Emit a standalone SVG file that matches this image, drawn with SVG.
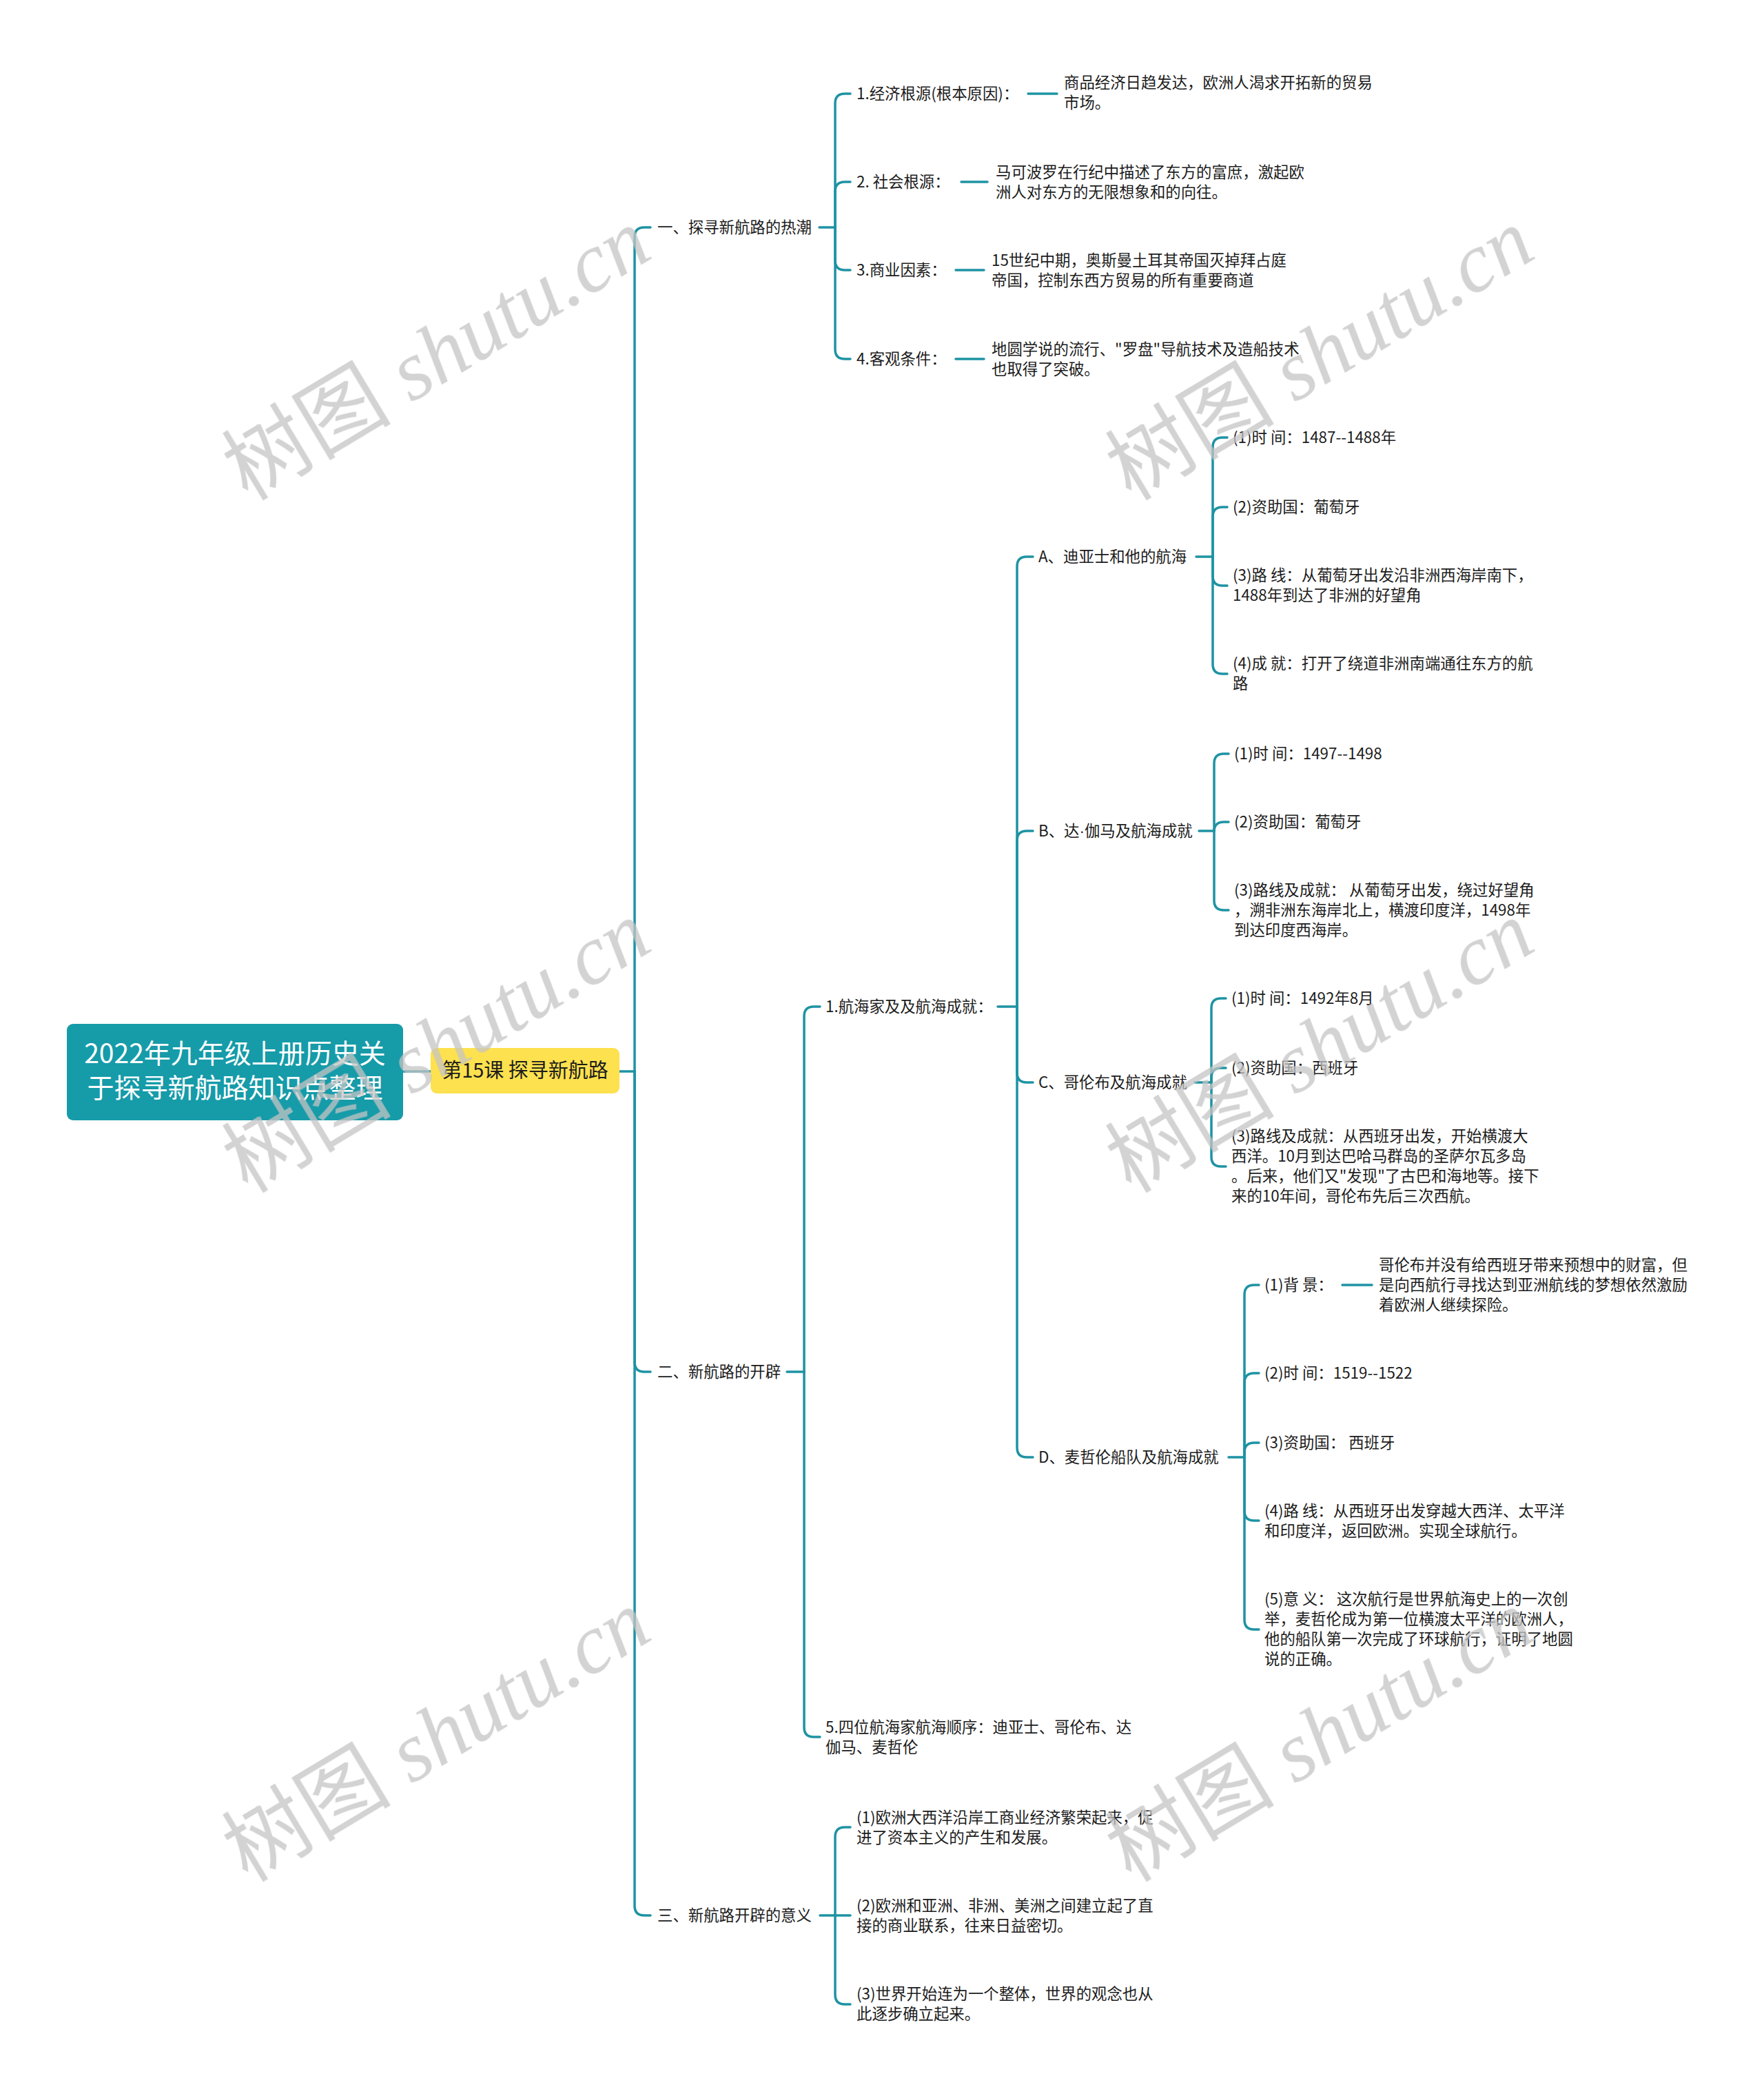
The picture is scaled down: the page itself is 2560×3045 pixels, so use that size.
<svg xmlns="http://www.w3.org/2000/svg" width="2560" height="3045" viewBox="0 0 2560 3045">
<style>
.t{font-family:"Noto Sans CJK SC","Liberation Sans",sans-serif;font-size:22.4px;fill:#1c1c1c}
.c path{fill:none;stroke:#1e93a3;stroke-width:3.5;stroke-linecap:round}
.wm{font-family:"Liberation Serif","Noto Sans CJK SC",serif;font-size:123px;fill:#c4c4c4;opacity:0.75}
.wm .i{font-style:italic}
.dot{font-family:"Liberation Sans",sans-serif}
</style>
<rect width="2560" height="3045" fill="#ffffff"/>
<g id="connectors" class="c">
<path d="M585,1555 H625"/>
<path d="M899,1555 H921"/>
<path d="M921,1555 V344 Q921,330 935,330 H944"/>
<path d="M921,1555 V1977 Q921,1991 935,1991 H944"/>
<path d="M921,1555 V2766 Q921,2780 935,2780 H944"/>
<path d="M1189,330 H1212"/>
<path d="M1212,330 V150 Q1212,136 1226,136 H1234"/>
<path d="M1212,330 V278 Q1212,264 1226,264 H1234"/>
<path d="M1212,330 V378 Q1212,392 1226,392 H1234"/>
<path d="M1212,330 V507 Q1212,521 1226,521 H1234"/>
<path d="M1492,136 H1534"/>
<path d="M1395,264 H1433"/>
<path d="M1387,392 H1428"/>
<path d="M1387,521 H1428"/>
<path d="M1142,1991 H1167"/>
<path d="M1167,1991 V1475 Q1167,1461 1181,1461 H1190"/>
<path d="M1167,1991 V2507 Q1167,2521 1181,2521 H1190"/>
<path d="M1448,1461 H1476"/>
<path d="M1476,1461 V822 Q1476,808 1490,808 H1499"/>
<path d="M1476,1461 V1220 Q1476,1206 1490,1206 H1499"/>
<path d="M1476,1461 V1557 Q1476,1571 1490,1571 H1499"/>
<path d="M1476,1461 V2101 Q1476,2115 1490,2115 H1499"/>
<path d="M1736,808 H1760"/>
<path d="M1760,808 V649 Q1760,635 1774,635 H1781"/>
<path d="M1760,808 V750 Q1760,736 1774,736 H1781"/>
<path d="M1760,808 V836 Q1760,850 1774,850 H1781"/>
<path d="M1760,808 V964 Q1760,978 1774,978 H1781"/>
<path d="M1740,1206 H1762"/>
<path d="M1762,1206 V1108 Q1762,1094 1776,1094 H1783"/>
<path d="M1762,1206 V1207 Q1762,1193 1776,1193 H1783"/>
<path d="M1762,1206 V1307 Q1762,1321 1776,1321 H1783"/>
<path d="M1734,1571 H1758"/>
<path d="M1758,1571 V1463 Q1758,1449 1772,1449 H1779"/>
<path d="M1758,1571 V1564 Q1758,1550 1772,1550 H1779"/>
<path d="M1758,1571 V1679 Q1758,1693 1772,1693 H1779"/>
<path d="M1783,2115 H1806"/>
<path d="M1806,2115 V1879 Q1806,1865 1820,1865 H1827"/>
<path d="M1806,2115 V2007 Q1806,1993 1820,1993 H1827"/>
<path d="M1806,2115 V2108 Q1806,2094 1820,2094 H1827"/>
<path d="M1806,2115 V2193 Q1806,2207 1820,2207 H1827"/>
<path d="M1806,2115 V2351 Q1806,2365 1820,2365 H1827"/>
<path d="M1948,1865 H1991"/>
<path d="M1190,2780 H1234"/>
<path d="M1212,2780 V2666 Q1212,2652 1226,2652 H1234"/>
<path d="M1212,2780 V2895 Q1212,2909 1226,2909 H1234"/>
</g>
<g id="root">
<rect x="97" y="1486" width="488" height="140" rx="9" fill="#169ba9"/>
<text x="341" y="1543" text-anchor="middle" font-family="Noto Sans CJK SC, sans-serif" font-size="39" fill="#ffffff">2022年九年级上册历史关</text>
<text x="341" y="1593" text-anchor="middle" font-family="Noto Sans CJK SC, sans-serif" font-size="39" fill="#ffffff">于探寻新航路知识点整理</text>
</g>
<g id="lesson">
<rect x="625" y="1521" width="274" height="66" rx="9" fill="#fde14e"/>
<text x="762" y="1564" text-anchor="middle" font-family="Noto Sans CJK SC, sans-serif" font-size="29" fill="#1c1c1c">第15课 探寻新航路</text>
</g>
<g id="s1"><text class="t" x="954" y="338">一、探寻新航路的热潮</text></g>
<g id="s1-1"><text class="t" x="1243" y="144">1.经济根源(根本原因)：</text></g>
<g id="s1-1d"><text class="t" x="1544" y="128">商品经济日趋发达，欧洲人渴求开拓新的贸易</text><text class="t" x="1544" y="157">市场。</text></g>
<g id="s1-2"><text class="t" x="1243" y="272">2. 社会根源：</text></g>
<g id="s1-2d"><text class="t" x="1445" y="258">马可波罗在行纪中描述了东方的富庶，激起欧</text><text class="t" x="1445" y="287">洲人对东方的无限想象和的向往。</text></g>
<g id="s1-3"><text class="t" x="1243" y="400">3.商业因素：</text></g>
<g id="s1-3d"><text class="t" x="1439" y="386">15世纪中期，奥斯曼土耳其帝国灭掉拜占庭</text><text class="t" x="1439" y="415">帝国，控制东西方贸易的所有重要商道</text></g>
<g id="s1-4"><text class="t" x="1243" y="529">4.客观条件：</text></g>
<g id="s1-4d"><text class="t" x="1439" y="515">地圆学说的流行、"罗盘"导航技术及造船技术</text><text class="t" x="1439" y="544">也取得了突破。</text></g>
<g id="s2"><text class="t" x="954" y="1999">二、新航路的开辟</text></g>
<g id="s2-1"><text class="t" x="1198" y="1469">1.航海家及及航海成就：</text></g>
<g id="A"><text class="t" x="1507" y="816">A、迪亚士和他的航海</text></g>
<g id="A1"><text class="t" x="1789" y="643">(1)时 间：1487--1488年</text></g>
<g id="A2"><text class="t" x="1789" y="744">(2)资助国：葡萄牙</text></g>
<g id="A3"><text class="t" x="1789" y="843">(3)路 线：从葡萄牙出发沿非洲西海岸南下，</text><text class="t" x="1789" y="872">1488年到达了非洲的好望角</text></g>
<g id="A4"><text class="t" x="1789" y="971">(4)成 就：打开了绕道非洲南端通往东方的航</text><text class="t" x="1789" y="1000">路</text></g>
<g id="B"><text class="t" x="1507" y="1214">B、达<tspan class="dot">·</tspan>伽马及航海成就</text></g>
<g id="B1"><text class="t" x="1791" y="1102">(1)时 间：1497--1498</text></g>
<g id="B2"><text class="t" x="1791" y="1201">(2)资助国：葡萄牙</text></g>
<g id="B3"><text class="t" x="1791" y="1300">(3)路线及成就： 从葡萄牙出发，绕过好望角</text><text class="t" x="1791" y="1329">，溯非洲东海岸北上，横渡印度洋，1498年</text><text class="t" x="1791" y="1358">到达印度西海岸。</text></g>
<g id="C"><text class="t" x="1507" y="1579">C、哥伦布及航海成就</text></g>
<g id="C1"><text class="t" x="1787" y="1457">(1)时 间：1492年8月</text></g>
<g id="C2"><text class="t" x="1787" y="1558">(2)资助国：西班牙</text></g>
<g id="C3"><text class="t" x="1787" y="1657">(3)路线及成就：从西班牙出发，开始横渡大</text><text class="t" x="1787" y="1686">西洋。10月到达巴哈马群岛的圣萨尔瓦多岛</text><text class="t" x="1787" y="1715">。后来，他们又"发现"了古巴和海地等。接下</text><text class="t" x="1787" y="1744">来的10年间，哥伦布先后三次西航。</text></g>
<g id="D"><text class="t" x="1507" y="2123">D、麦哲伦船队及航海成就</text></g>
<g id="D1"><text class="t" x="1835" y="1873">(1)背 景：</text></g>
<g id="D1d"><text class="t" x="2001" y="1844">哥伦布并没有给西班牙带来预想中的财富，但</text><text class="t" x="2001" y="1873">是向西航行寻找达到亚洲航线的梦想依然激励</text><text class="t" x="2001" y="1902">着欧洲人继续探险。</text></g>
<g id="D2"><text class="t" x="1835" y="2001">(2)时 间：1519--1522</text></g>
<g id="D3"><text class="t" x="1835" y="2102">(3)资助国： 西班牙</text></g>
<g id="D4"><text class="t" x="1835" y="2201">(4)路 线：从西班牙出发穿越大西洋、太平洋</text><text class="t" x="1835" y="2230">和印度洋，返回欧洲。实现全球航行。</text></g>
<g id="D5"><text class="t" x="1835" y="2329">(5)意 义： 这次航行是世界航海史上的一次创</text><text class="t" x="1835" y="2358">举，麦哲伦成为第一位横渡太平洋的欧洲人，</text><text class="t" x="1835" y="2387">他的船队第一次完成了环球航行，证明了地圆</text><text class="t" x="1835" y="2416">说的正确。</text></g>
<g id="s2-5"><text class="t" x="1198" y="2515">5.四位航海家航海顺序：迪亚士、哥伦布、达</text><text class="t" x="1198" y="2544">伽马、麦哲伦</text></g>
<g id="s3"><text class="t" x="954" y="2788">三、新航路开辟的意义</text></g>
<g id="s3-1"><text class="t" x="1243" y="2646">(1)欧洲大西洋沿岸工商业经济繁荣起来，促</text><text class="t" x="1243" y="2675">进了资本主义的产生和发展。</text></g>
<g id="s3-2"><text class="t" x="1243" y="2774">(2)欧洲和亚洲、非洲、美洲之间建立起了直</text><text class="t" x="1243" y="2803">接的商业联系，往来日益密切。</text></g>
<g id="s3-3"><text class="t" x="1243" y="2902">(3)世界开始连为一个整体，世界的观念也从</text><text class="t" x="1243" y="2931">此逐步确立起来。</text></g>
<g id="watermarks" class="wm" text-anchor="middle">
<text transform="translate(655,550) rotate(-31)">树图 <tspan class="i">shutu.cn</tspan></text>
<text transform="translate(1937,550) rotate(-31)">树图 <tspan class="i">shutu.cn</tspan></text>
<text transform="translate(655,1555) rotate(-31)">树图 <tspan class="i">shutu.cn</tspan></text>
<text transform="translate(1937,1555) rotate(-31)">树图 <tspan class="i">shutu.cn</tspan></text>
<text transform="translate(655,2555) rotate(-31)">树图 <tspan class="i">shutu.cn</tspan></text>
<text transform="translate(1937,2555) rotate(-31)">树图 <tspan class="i">shutu.cn</tspan></text>
</g>
</svg>
